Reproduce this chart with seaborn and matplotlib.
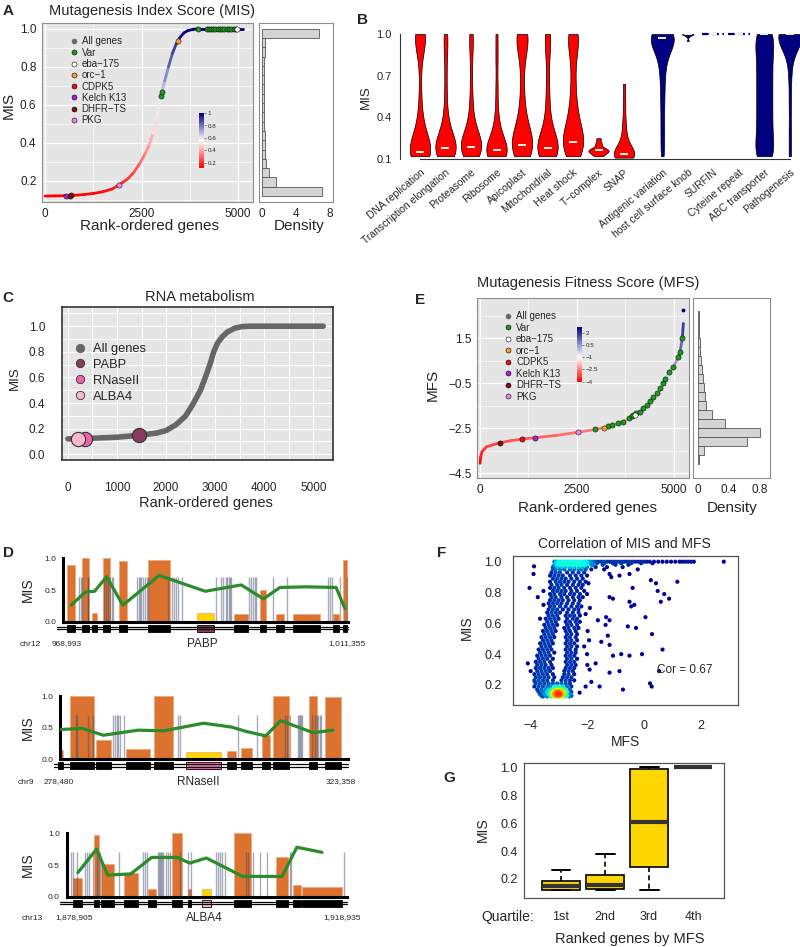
import numpy as np
import pandas as pd
import matplotlib
matplotlib.use("Agg")
import matplotlib.pyplot as plt
import seaborn as sns
from matplotlib.collections import LineCollection
from matplotlib.colors import LinearSegmentedColormap, Normalize
from matplotlib.cm import ScalarMappable
from matplotlib.lines import Line2D

# ---------------- A: Mutagenesis Index Score ----------------
mis_rank = [0, 250, 500, 750, 1000, 1250, 1500, 1750, 2000, 2150, 2300, 2450, 2600, 2700,
            2800, 2900, 3000, 3100, 3200, 3300, 3400, 3500, 3600, 3700, 3850, 4000, 4500, 5130]
mis_value = [0.120, 0.121, 0.122, 0.124, 0.128, 0.134, 0.143, 0.158, 0.19, 0.212, 0.245, 0.29,
             0.345, 0.39, 0.45, 0.54, 0.645, 0.725, 0.80, 0.87, 0.92, 0.955, 0.978, 0.99, 0.997,
             1.0, 1.0, 1.0]
mis_hist_edges = [0.12, 0.169, 0.218, 0.267, 0.316, 0.364, 0.413, 0.462, 0.511, 0.56, 0.609,
                  0.658, 0.707, 0.756, 0.804, 0.853, 0.902, 0.951, 1.0]
mis_hist_density = [7.1, 1.65, 0.8, 0.5, 0.4, 0.35, 0.3, 0.25, 0.25, 0.2, 0.25, 0.2, 0.2, 0.2,
                    0.25, 0.3, 0.3, 6.7]

legend_genes = ["All genes", "Var", "eba\u2212175", "orc\u22121", "CDPK5", "Kelch K13", "DHFR\u2212TS", "PKG"]
legend_colors = ["#666666", "#1E9A1E", "#FFFFFF", "#F5A033", "#E81010", "#9B27D9", "#7A1010", "#EE88EE"]

a_var_rank = [3005, 3020, 3960, 4185, 4245, 4300, 4355, 4410, 4470, 4530, 4590, 4650, 4710,
              4770, 4830, 4890, 4940]
a_var_mis = [0.648, 0.665, 1.0, 1.0, 1.0, 1.0, 1.0, 1.0, 1.0, 1.0, 1.0, 1.0, 1.0, 1.0, 1.0, 1.0, 1.0]
# eba-175, orc-1, CDPK5, Kelch K13, DHFR-TS, PKG
a_gene_rank = [4975, 3446, 680, 544, 640, 1917]
a_gene_mis = [1.0, 0.935, 0.124, 0.121, 0.123, 0.18]

# ---------------- B: MIS per functional class ----------------
b_names = ["DNA replication", "Transcription elongation", "Proteasome", "Ribosome", "Apicoplast",
           "Mitochondrial", "Heat shock", "T\u2212complex", "SNAP", "Antigenic variation",
           "host cell surface knob", "SURFIN", "Cyteine repeat", "ABC transporter", "Pathogenesis"]
b_pos = [1, 2, 3, 4, 5, 6, 7, 8, 9, 10.5, 11.5, 12.5, 13.5, 14.5, 15.5]
b_widths = [0.8, 0.8, 0.8, 0.8, 0.8, 0.8, 0.8, 0.8, 0.8, 0.9, 0.45, 0.85, 0.85, 0.7, 0.9]
b_colors = ["#FF0000"] * 9 + ["#000080"] * 6
b_medians = [0.148, 0.181, 0.189, 0.163, 0.2, 0.179, 0.222, 0.163, 0.136, 0.973, 0.998, 1.0,
             1.0, 1.0, 1.0]
dna_rep = [0.12, 0.12, 0.125, 0.13, 0.13, 0.135, 0.14, 0.145, 0.15, 0.16, 0.17, 0.18, 0.19, 0.21,
           0.23, 0.26, 0.29, 0.33, 0.39, 0.47, 0.6, 0.78, 0.9, 0.95, 0.97, 0.98, 0.99, 1.0, 1.0, 1.0]
transcription = [0.12, 0.125, 0.13, 0.14, 0.15, 0.16, 0.17, 0.18, 0.19, 0.2, 0.21, 0.23, 0.25,
                 0.28, 0.31, 0.36, 0.43, 0.55, 0.7, 0.85, 0.96, 1.0]
proteasome = [0.12, 0.13, 0.14, 0.155, 0.17, 0.18, 0.19, 0.2, 0.21, 0.22, 0.24, 0.26, 0.29, 0.33,
              0.39, 0.48, 0.62, 0.8, 0.95, 1.0]
ribosome = [0.12, 0.12, 0.125, 0.13, 0.14, 0.15, 0.16, 0.17, 0.18, 0.2, 0.22, 0.25, 0.29, 0.35,
            0.45, 0.62, 0.82, 1.0]
apicoplast = [0.12, 0.13, 0.15, 0.17, 0.19, 0.2, 0.21, 0.22, 0.24, 0.27, 0.3, 0.34, 0.4, 0.48,
              0.6, 0.75, 0.88, 0.94, 0.97, 0.99, 1.0, 1.0]
mito = [0.12, 0.13, 0.14, 0.15, 0.16, 0.17, 0.18, 0.19, 0.2, 0.22, 0.25, 0.28, 0.33, 0.4, 0.5,
        0.62, 0.78, 0.92, 0.98, 1.0]
heat_shock = [0.12, 0.14, 0.16, 0.18, 0.2, 0.22, 0.23, 0.25, 0.27, 0.3, 0.33, 0.37, 0.42, 0.48,
              0.56, 0.66, 0.78, 0.88, 0.94, 0.98, 1.0, 1.0]
t_complex = [0.12, 0.13, 0.14, 0.15, 0.155, 0.16, 0.165, 0.17, 0.18, 0.2, 0.22, 0.25]
snap = [0.11, 0.115, 0.12, 0.125, 0.13, 0.135, 0.14, 0.15, 0.17, 0.2, 0.24, 0.3, 0.38, 0.5, 0.64]
antigenic = [0.12, 0.22, 0.32, 0.42, 0.52, 0.6, 0.68, 0.75, 0.8, 0.85, 0.88, 0.91, 0.93, 0.95,
             0.96, 0.97, 0.975, 0.98, 0.985, 0.99, 0.995, 1.0, 1.0, 1.0]
knob = [0.95, 0.98, 0.99, 0.995, 1.0, 1.0, 1.0, 1.0]
surfin = [1.0, 1.0, 1.0]
cyteine = [1.0, 1.0, 1.0]
abc = [0.12, 0.12, 0.13, 0.16, 0.2, 0.24, 0.28, 0.32, 0.36, 0.4, 0.44, 0.48, 0.52, 0.56, 0.6,
       0.64, 0.68, 0.72, 0.76, 0.8, 0.84, 0.88, 0.92, 0.96, 0.99, 1.0, 1.0]
pathogenesis = [0.12, 0.3, 0.5, 0.68, 0.8, 0.88, 0.93, 0.95, 0.97, 0.98, 0.985, 0.99, 0.995,
                1.0, 1.0, 1.0, 1.0, 1.0]
b_values = [dna_rep, transcription, proteasome, ribosome, apicoplast, mito, heat_shock,
            t_complex, snap, antigenic, knob, surfin, cyteine, abc, pathogenesis]

# ---------------- C: RNA metabolism ----------------
c_rank = [0, 500, 1000, 1500, 1800, 2000, 2200, 2400, 2560, 2700, 2800, 2900, 2970, 3050, 3150,
          3250, 3400, 3550, 3700, 4000, 5200]
c_mis = [0.12, 0.125, 0.133, 0.15, 0.165, 0.185, 0.23, 0.3, 0.4, 0.5, 0.6, 0.71, 0.8, 0.87, 0.92,
         0.955, 0.985, 0.997, 1.0, 1.0, 1.0]
c_genes = ["PABP", "RNaseII", "ALBA4"]
c_gene_rank = [1456, 347, 211]
c_gene_mis = [0.15, 0.12, 0.12]
c_gene_colors = ["#8B3A62", "#F062A8", "#FFB6C8"]

# ---------------- D: gene neighbourhoods (kb from region start) ----------------
d1_start = [0.6, 2.8, 4.3, 5.9, 8.3, 12.6, 19.8, 25.4, 29.3, 31.6, 34.1, 40.1, 41.6]
d1_end = [1.7, 3.8, 5.0, 7.0, 9.4, 15.9, 22.4, 27.5, 30.2, 32.8, 38.2, 41.0, 42.1]
d1_mis = [0.90, 1.0, 0.14, 1.0, 0.95, 0.97, 0.14, 0.12, 0.50, 0.12, 0.12, 0.12, 0.98]
d1_fit = [0.26, 0.47, 0.48, 0.71, 0.26, 0.73, 0.48, 0.58, 0.36, 0.54, 0.55, 0.54, 0.21]
d1_sites = [2.3, 2.6, 2.8, 3.6, 3.7, 6.0, 6.3, 6.7, 6.9, 7.2, 7.4, 10.9, 11.2, 11.4, 11.6, 11.9,
            12.1, 12.4, 12.6, 15.6, 16.1, 16.4, 16.8, 17.1, 17.6, 22.7, 23.5, 23.8, 24.2, 24.4,
            24.6, 24.8, 25.0, 27.6, 27.9, 28.2, 28.5, 28.7, 31.2, 33.3, 39.4, 39.6, 39.9, 41.2, 42.1]

d2_start = [-0.25, 1.56, 5.6, 10.27, 14.68, 19.61, 25.94, 28.12, 31.39, 33.1, 38.81, 41.24]
d2_end = [0.5, 5.34, 7.89, 14.0, 17.64, 25.06, 27.39, 29.83, 32.68, 35.59, 40.05, 43.73]
d2_mis = [0.15, 1.0, 0.31, 0.17, 1.0, 0.12, 0.13, 0.18, 0.38, 1.0, 1.0, 0.99]
d2_fit = [0.47, 0.49, 0.38, 0.46, 0.45, 0.57, 0.51, 0.44, 0.37, 0.61, 0.42, 0.46]
d2_sites = [2.5, 2.7, 4.4, 5.2, 8.3, 8.6, 8.8, 9.1, 9.3, 9.9, 18.4, 18.7, 27.7, 30.6, 35.0, 35.3,
            35.8, 37.0, 37.2, 37.4, 37.5, 37.7, 39.2, 39.7, 40.0, 40.2, 40.5, 40.7]

d3_start = [0.95, 3.91, 4.91, 8.2, 11.58, 15.1, 17.39, 19.3, 23.92, 29.88, 32.31, 33.69]
d3_end = [2.24, 4.62, 6.81, 10.15, 12.72, 16.44, 17.77, 20.63, 26.4, 31.69, 33.5, 39.31]
d3_mis = [0.29, 0.97, 0.52, 0.38, 0.12, 1.0, 0.12, 0.12, 1.0, 0.62, 0.19, 0.15]
d3_fit = [0.38, 0.75, 0.34, 0.36, 0.62, 0.62, 0.53, 0.61, 0.32, 0.32, 0.78, 0.70]
d3_sites = [0.57, 0.86, 1.52, 2.62, 2.95, 3.24, 3.72, 4.34, 4.57, 4.76, 7.53, 10.96, 11.2, 11.44,
            13.01, 13.2, 13.34, 13.49, 13.68, 13.82, 14.15, 14.53, 14.77, 16.2, 17.3, 17.77,
            21.35, 21.68, 21.92, 22.16, 22.63, 25.63, 25.97, 26.68, 27.64, 28.59, 31.93, 32.07, 39.69]

d_chrom = ["chr12", "chr9", "chr13"]
d_left = ["968,993", "278,480", "1,878,905"]
d_right = ["1,011,355", "323,358", "1,918,935"]
d_span = [42.362, 44.878, 40.03]
d_target = [6, 5, 7]
d_target_name = ["PABP", "RNaseII", "ALBA4"]
d_target_color = ["#8B3A62", "#FF69B4", "#FFC0CB"]

# ---------------- E: Mutagenesis Fitness Score ----------------
mfs_rank = [0, 15, 50, 170, 517, 800, 1077, 1421, 2000, 2524, 2972, 3204, 3402, 3574, 3688, 3800,
            3962, 4134, 4307, 4479, 4565, 4780, 4892, 4996, 5125, 5168, 5228, 5254]
mfs_value = [-4.07, -3.8, -3.55, -3.33, -3.15, -3.06, -2.99, -2.93, -2.82, -2.69, -2.56, -2.49,
             -2.37, -2.29, -2.22, -2.12, -1.92, -1.77, -1.48, -1.11, -0.96, -0.34, 0.0, 0.2, 0.67,
             0.89, 1.49, 2.15]
mfs_top_rank = [5237]
mfs_top_value = [2.74]
mfs_hist_edges = [-4.1, -3.7, -3.3, -2.9, -2.5, -2.1, -1.7, -1.3, -0.9, -0.5, -0.1, 0.3, 0.7,
                  1.1, 1.5, 1.9, 2.3, 2.7]
mfs_hist_density = [0.01, 0.08, 0.63, 0.8, 0.35, 0.18, 0.1, 0.09, 0.08, 0.07, 0.05, 0.04, 0.03,
                    0.02, 0.015, 0.01, 0.01]
e_var_rank = [2972, 3316, 3402, 3574, 3688, 3850, 3920, 3962, 4040, 4134, 4220, 4307, 4400, 4479,
              4565, 4650, 4729, 4780, 4892, 4996, 5125, 5168, 5228]
e_var_mfs = [-2.56, -2.41, -2.37, -2.29, -2.22, -2.06, -1.97, -1.92, -1.85, -1.77, -1.62, -1.48,
             -1.28, -1.11, -0.96, -0.71, -0.49, -0.34, 0.0, 0.2, 0.67, 0.89, 1.49]
e_gene_rank = [4005, 3204, 1077, 1421, 517, 2524]
e_gene_mfs = [-1.9, -2.49, -2.99, -2.93, -3.15, -2.69]

# ---------------- F: MIS vs MFS ----------------
f_row_mis = [1.0, 0.99, 0.98, 0.965, 0.95, 0.93, 0.91, 0.89, 0.87, 0.85, 0.83, 0.81, 0.79, 0.77,
             0.75, 0.73, 0.71, 0.69, 0.67, 0.65, 0.63, 0.61, 0.59, 0.57, 0.55, 0.53, 0.51, 0.49,
             0.47, 0.45, 0.43, 0.41, 0.39, 0.37, 0.35, 0.33, 0.31, 0.29, 0.27, 0.25, 0.23, 0.21,
             0.19, 0.175, 0.17, 0.16, 0.155, 0.145, 0.14, 0.135, 0.13, 0.125]
f_row_mfs = [
    [-3.15, -3.1, -3.05, -3.0, -2.95, -2.9, -2.85, -2.8, -2.75, -2.7, -2.65, -2.6, -2.55, -2.5,
     -2.45, -2.4, -2.35, -2.3, -2.25, -2.2, -2.15, -2.1, -2.05, -2.0, -1.95, -1.9, -1.8, -1.7,
     -1.6, -1.5, -1.4, -1.3, -1.2, -1.1, -1.0, -0.9, -0.8, -0.7, -0.6, -0.5, -0.4, -0.3, -0.2,
     -0.1, 0.0, 0.1, 0.2, 0.35, 0.5, 0.65, 0.8, 0.95, 1.1, 1.25, 1.35, 1.45, 1.55, 1.65, 1.75, 2.8],
    [-3.1, -3.0, -2.9, -2.8, -2.7, -2.6, -2.5, -2.4, -2.3, -2.2, -2.1, -2.0, -1.85, -1.65, -1.4,
     -1.1, -0.8, -0.45, -0.1, 0.3],
    [-3.15, -3.05, -2.95, -2.85, -2.75, -2.65, -2.55, -2.45, -2.35, -2.25, -2.15, -2.05, -1.8,
     -1.45, -1.0, -0.55],
    [-3.2, -3.05, -2.9, -2.75, -2.6, -2.45, -2.3, -2.15, -2.0, -1.7, -1.3, -0.75],
    [-3.2, -3.1, -2.95, -2.8, -2.6, -2.45, -2.3, -2.2, -2.05, -1.85, -1.4],
    [-3.25, -3.1, -2.95, -2.7, -2.5, -2.3, -2.1],
    [-3.3, -3.15, -3.0, -2.85, -2.6, -2.4, -2.2, -2.0],
    [-3.2, -3.05, -2.9, -2.75, -2.55, -2.35, -2.15],
    [-3.3, -3.1, -2.95, -2.8, -2.65, -2.45, -2.25, -2.05],
    [-3.25, -3.05, -2.9, -2.7, -2.5, -2.3, -2.15],
    [-3.3, -3.15, -3.0, -2.8, -2.6, -2.4, -2.2],
    [-3.2, -3.05, -2.9, -2.75, -2.55, -2.35, -2.1],
    [-3.3, -3.15, -2.95, -2.8, -2.6, -2.45, -2.25],
    [-3.25, -3.1, -2.9, -2.7, -2.5, -2.3, -2.15],
    [-3.3, -3.15, -3.0, -2.85, -2.65, -2.45, -2.25],
    [-3.35, -3.2, -3.05, -2.9, -2.7, -2.5, -2.3],
    [-3.3, -3.15, -2.95, -2.75, -2.55, -2.35, -2.2],
    [-3.35, -3.2, -3.05, -2.85, -2.65, -2.45, -2.3],
    [-3.4, -3.25, -3.1, -2.95, -2.7, -2.5, -2.3],
    [-3.35, -3.2, -3.05, -2.75, -2.6, -2.45, -2.25],
    [-3.45, -3.3, -3.15, -3.0, -2.7, -2.5, -2.35],
    [-3.4, -3.25, -3.1, -2.75, -2.6, -2.4, -2.25],
    [-3.5, -3.35, -3.2, -3.05, -2.7, -2.55, -2.35],
    [-3.45, -3.3, -3.15, -2.8, -2.65, -2.45, -2.3],
    [-3.55, -3.4, -3.25, -3.1, -2.75, -2.6, -2.4],
    [-3.5, -3.35, -3.2, -2.7, -2.55, -2.35],
    [-3.6, -3.45, -3.3, -3.15, -2.75, -2.6, -2.4],
    [-3.55, -3.4, -3.25, -2.7, -2.55, -2.35],
    [-3.65, -3.5, -3.35, -3.2, -2.75, -2.6, -2.45],
    [-3.6, -3.45, -3.3, -2.7, -2.55, -2.35],
    [-3.7, -3.55, -3.4, -3.25, -2.75, -2.6, -2.4],
    [-3.65, -3.5, -3.35, -3.15, -2.7, -2.55, -2.4],
    [-3.75, -3.6, -3.45, -3.3, -2.75, -2.6, -2.45],
    [-3.7, -3.55, -3.4, -3.2, -2.7, -2.55, -2.35],
    [-3.8, -3.65, -3.5, -3.3, -2.75, -2.6, -2.45],
    [-3.75, -3.6, -3.45, -3.25, -2.7, -2.55, -2.4],
    [-3.8, -3.65, -3.5, -3.35, -3.2, -2.75, -2.6, -2.45],
    [-3.75, -3.6, -3.45, -3.3, -2.8, -2.65, -2.5],
    [-3.85, -3.7, -3.55, -3.4, -3.2, -2.8, -2.65, -2.45],
    [-3.8, -3.65, -3.5, -3.35, -3.15, -2.85, -2.7, -2.55],
    [-3.85, -3.7, -3.55, -3.4, -3.2, -2.9, -2.75, -2.6, -2.45],
    [-3.8, -3.65, -3.5, -3.35, -3.2, -3.05, -2.9, -2.75, -2.6],
    [-3.85, -3.7, -3.55, -3.4, -3.3, -3.15, -3.05, -2.95, -2.85, -2.7, -2.55],
    [-3.15, -3.05, -2.95, -2.85],
    [-3.75, -3.6, -3.45, -3.35, -3.25, -3.15, -3.05, -2.95, -2.85, -2.75, -2.6],
    [-3.2, -3.12, -3.04, -2.96, -2.88, -2.8],
    [-3.7, -3.55, -3.4, -3.3, -3.2, -3.12, -3.05, -2.98, -2.9, -2.8, -2.7, -2.55],
    [-3.22, -3.16, -3.1, -3.04, -2.98, -2.92, -2.86, -2.8],
    [-3.65, -3.5, -3.35, -3.25, -3.18, -3.1, -3.04, -2.98, -2.92, -2.85, -2.75, -2.6],
    [-3.2, -3.15, -3.1, -3.05, -3.0, -2.95, -2.9, -2.85],
    [-3.6, -3.45, -3.3, -3.2, -3.12, -3.06, -3.0, -2.95, -2.88, -2.8, -2.7, -2.55],
    [-3.55, -3.4, -3.25, -3.15, -3.08, -3.02, -2.97, -2.92, -2.85, -2.75, -2.62],
]
f_out_mfs = [-3.86, -3.88, -4.02, -3.53, -3.73, -3.53, -3.65, -4.08, -3.98, -3.83, -1.85, -1.21,
             -1.15, -0.86, -0.51, -0.22, 0.24, 0.42, 1.17, -0.4, -1.21, -1.09, -0.51, -0.45, -0.34,
             0.48, 0.71, 0.88, 0.59, -1.33, -1.62, -1.21, -1.35, -0.57, -0.28, 0.05, 0.28, -1.27,
             -1.5, -1.21, -0.8, -0.51, -0.07, 0.65, -1.09, -1.7, -1.91, -1.21, -0.86, -1.85, -1.56,
             -0.74, 0.21, 0.27, 0.53, -2.26, -2.05, -1.99, -1.93, -1.95, -2.0, -1.9, -2.05, -1.98,
             -2.1, -2.0]
f_out_mis = [0.97, 0.92, 0.83, 0.81, 0.77, 0.72, 0.63, 0.34, 0.29, 0.22, 0.98, 0.92, 0.9, 0.91,
             0.92, 0.95, 0.88, 0.86, 0.87, 0.83, 0.77, 0.76, 0.74, 0.71, 0.72, 0.81, 0.79, 0.76,
             0.74, 0.64, 0.62, 0.62, 0.59, 0.58, 0.57, 0.64, 0.53, 0.52, 0.48, 0.46, 0.4, 0.39, 0.4,
             0.43, 0.39, 0.34, 0.3, 0.28, 0.29, 0.22, 0.19, 0.17, 0.21, 0.19, 0.29, 0.15, 0.19,
             0.33, 0.49, 0.86, 0.79, 0.7, 0.66, 0.55, 0.45, 0.4]
f_cor_text = "Cor = 0.67"

# ---------------- G: MIS by MFS quartile ----------------
g_labels = ["1st", "2nd", "3rd", "4th"]
g_whislo = [0.12, 0.12, 0.12, 1.0]
g_q1 = [0.122, 0.128, 0.286, 1.0]
g_med = [0.15, 0.16, 0.61, 1.0]
g_q3 = [0.183, 0.232, 0.99, 1.0]
g_whishi = [0.267, 0.38, 1.0, 1.0]

# ---------------- figure set-up ----------------
sns.set_style("white")
plt.rcParams["font.family"] = ["Liberation Sans", "DejaVu Sans"]
W, H = 800, 947
fig = plt.figure(figsize=(W / 100, H / 100), dpi=100)


def rect(l, t, r, b):
    return [l / W, 1 - b / H, (r - l) / W, (b - t) / H]


def label(px, py, s, size, **kw):
    kw.setdefault("ha", "center")
    kw.setdefault("va", "center")
    fig.text(px / W, 1 - py / H, s, fontsize=size, **kw)


def panel(px, py, s):
    fig.text(px / W, 1 - py / H, s, fontsize=11, fontweight="bold", ha="center", va="center",
             family=["Liberation Sans Narrow", "Liberation Sans"])


def gg_style(ax):
    ax.set_facecolor("#E5E5E5")
    for s in ax.spines.values():
        s.set_color("#8C8C8C")
        s.set_linewidth(0.8)
    ax.grid(True, which="major", color="white", lw=0.9)
    ax.grid(True, which="minor", color="white", lw=0.45)
    ax.set_axisbelow(True)
    ax.tick_params(which="major", length=2.5, width=0.6, color="#666666", labelsize=8.5,
                   pad=1.5, labelcolor="#222222")
    ax.tick_params(which="minor", length=0)


def hist_style(ax):
    ax.set_facecolor("white")
    for s in ax.spines.values():
        s.set_color("#8C8C8C")
        s.set_linewidth(0.8)
    ax.tick_params(length=2.5, width=0.6, color="#666666", labelsize=8.5, pad=1.5,
                   labelcolor="#222222")
    ax.set_yticks([])


def colored_line(ax, x, y, cmap, norm, lw):
    pts = np.column_stack([x, y])
    segs = np.stack([pts[:-1], pts[1:]], axis=1)
    lc = LineCollection(segs, cmap=cmap, norm=norm, linewidths=lw, capstyle="round",
                        joinstyle="round", zorder=2)
    lc.set_array((np.asarray(y[:-1]) + np.asarray(y[1:])) / 2)
    ax.add_collection(lc)


def gene_legend(ax, x0, y0, size, spacing, pad, ms):
    handles = [Line2D([], [], ls="none", marker="o", ms=ms, mfc=c,
                      mec=c if lab == "All genes" else "black", mew=0.4)
               for lab, c in zip(legend_genes, legend_colors)]
    ax.legend(handles, legend_genes, loc="upper left", bbox_to_anchor=(x0 / W, 1 - y0 / H),
              bbox_transform=fig.transFigure, frameon=False, fontsize=size, handlelength=1.0,
              handletextpad=pad, labelspacing=spacing, borderpad=0, borderaxespad=0)


def small_cbar(box, norm, cmap, ticks, labels):
    cax = fig.add_axes(rect(*box))
    cb = fig.colorbar(ScalarMappable(norm=norm, cmap=cmap), cax=cax, ticks=ticks)
    cb.ax.set_yticklabels(labels)
    cb.ax.tick_params(labelsize=4.5, length=1.5, width=0.4, pad=1)
    cb.outline.set_visible(False)


score_cmap = LinearSegmentedColormap.from_list("score", ["#FF0000", "#FFFFFF", "#00007F"])
mfs_cmap = LinearSegmentedColormap.from_list(
    "mfs", [(0, "#FF0000"), (0.45, "#FFFFFF"), (1, "#00007F")])
dens_cmap = LinearSegmentedColormap.from_list(
    "dens", ["#000099", "#00FEFF", "#45FE4F", "#FCFF00", "#FF9400", "#FF3100"])

# ---------------- panel A ----------------
axA = fig.add_axes(rect(42, 23, 253, 202))
gg_style(axA)
mis_norm = Normalize(0.12, 1.0)
colored_line(axA, mis_rank, mis_value, score_cmap, mis_norm, 2.0)
sns.scatterplot(x=a_var_rank, y=a_var_mis, color=legend_colors[1], s=14, edgecolor="black",
                linewidth=0.35, zorder=4, ax=axA)
for r, m, c in zip(a_gene_rank, a_gene_mis, legend_colors[2:]):
    axA.scatter(r, m, s=14, color=c, edgecolor="black", linewidth=0.35, zorder=5)
axA.set_xlim(-80, 5390)
axA.set_ylim(0.089, 1.03)
axA.set_xticks([0, 2500, 5000])
axA.set_xticks([1250, 3750], minor=True)
axA.set_yticks([0.2, 0.4, 0.6, 0.8, 1.0])
axA.set_yticks([0.1, 0.3, 0.5, 0.7, 0.9], minor=True)
axA.yaxis.set_major_formatter("{x:.1f}")
axA.set(xlabel="", ylabel="")
gene_legend(axA, 69, 36.5, 7, 0.13, 0.3, 3.6)
small_cbar((199, 113, 204, 168), mis_norm, score_cmap, [0.2, 0.4, 0.6, 0.8, 1.0],
           ["0.2", "0.4", "0.6", "0.8", "1"])

axAd = fig.add_axes(rect(259, 23, 333, 202))
hist_style(axAd)
edges = np.asarray(mis_hist_edges)
axAd.barh(edges[:-1], mis_hist_density, height=np.diff(edges), align="edge", color="#D4D4D4",
          edgecolor="#555555", linewidth=0.6)
axAd.set_ylim(0.089, 1.03)
axAd.set_xlim(-0.35, 8.35)
axAd.set_xticks([0, 4, 8])

panel(8, 11, "A")
label(152, 11, "Mutagenesis Index Score (MIS)", 10.5)
label(150, 226, "Rank-ordered genes", 11)
label(299, 226, "Density", 11)
label(9, 105, "MIS", 11, rotation=90)

# ---------------- panel B ----------------
axB = fig.add_axes(rect(400, 34, 800, 159))
pill = [(-1, -0.42), (1, -0.42), (1, 0.42), (-1, 0.42)]
for pos, vals, col, w in zip(b_pos, b_values, b_colors, b_widths):
    if max(vals) == min(vals):
        axB.hlines(vals[0], pos - w / 2, pos + w / 2, colors=col, lw=1.6,
                   linestyles=(0, (3, 1.6)), clip_on=False)
        continue
    sns.violinplot(x=[pos] * len(vals), y=vals, native_scale=True, orient="x", color=col,
                   saturation=1, width=w, cut=0, inner=None, bw_adjust=0.6,
                   density_norm="width", linewidth=0.5, linecolor="black", ax=axB)
axB.scatter(b_pos, b_medians, marker=pill, s=26, color="#EEEEDD", linewidths=0, zorder=6,
            clip_on=False)
axB.set_xlim(0.216, 15.9)
axB.set_ylim(0.1, 1.0)
axB.set_yticks([0.1, 0.4, 0.7, 1.0])
axB.yaxis.set_major_formatter("{x:.1f}")
axB.set_xticks(b_pos)
axB.set_xticklabels(b_names, rotation=40, ha="right", rotation_mode="anchor", fontsize=7.5)
for s in ["top", "right"]:
    axB.spines[s].set_visible(False)
axB.spines["left"].set_bounds(0.1, 1.0)
axB.spines["bottom"].set_bounds(1, 15.5)
for s in ["left", "bottom"]:
    axB.spines[s].set_linewidth(0.8)
    axB.spines[s].set_color("#333333")
axB.tick_params(axis="y", labelsize=8, length=4, width=0.7, pad=2)
axB.tick_params(axis="x", length=4, width=0.7, pad=2)
axB.set(xlabel="", ylabel="")
panel(363, 20, "B")
label(366, 97, "MIS", 9.5, rotation=90)

# ---------------- panel C ----------------
axC = fig.add_axes(rect(62, 307, 333, 460))
axC.set_facecolor("#E5E5E5")
axC.set_xticks(range(0, 5001, 1000))
axC.set_xticks(range(500, 5500, 1000), minor=True)
axC.set_yticks([0.0, 0.2, 0.4, 0.6, 0.8, 1.0])
axC.set_yticks([0.1, 0.3, 0.5, 0.7, 0.9, 1.1], minor=True)
axC.grid(True, which="both", color="white", lw=0.8)
axC.set_axisbelow(True)
sns.lineplot(x=c_rank, y=c_mis, color="#666666", linewidth=4, ax=axC, zorder=2)
for r, m, c in zip(c_gene_rank, c_gene_mis, c_gene_colors):
    axC.scatter(r, m, s=105, color=c, edgecolor="#333333", linewidth=0.8, zorder=4)
axC.set_xlim(-120, 5400)
axC.set_ylim(-0.045, 1.15)
axC.yaxis.set_major_formatter("{x:.1f}")
for s in axC.spines.values():
    s.set_color("#333333")
    s.set_linewidth(1.2)
axC.tick_params(axis="x", which="major", length=4, width=0.8, pad=12, labelsize=8.5)
axC.tick_params(axis="y", which="major", length=5, width=0.8, pad=7, labelsize=8.5)
axC.tick_params(which="minor", length=0)
axC.set(xlabel="", ylabel="")
c_handles = [Line2D([], [], ls="none", marker="o", ms=6, mfc=c, mec="#333333" if i else c, mew=0.6)
             for i, c in enumerate(["#666666"] + c_gene_colors)]
axC.legend(c_handles, ["All genes"] + c_genes, loc="upper left",
           bbox_to_anchor=(73.5 / W, 1 - 343 / H), bbox_transform=fig.transFigure,
           frameon=False, fontsize=9.3, handlelength=1.0, handletextpad=0.5, labelspacing=0.3,
           borderpad=0, borderaxespad=0)
panel(8, 298, "C")
label(200, 297, "RNA metabolism", 10.5)
label(206, 503, "Rank-ordered genes", 10.5)
label(15, 378, "MIS", 9.5, rotation=90)

# ---------------- panel D ----------------
d_boxes = [(63.3, 558.3, 348.3, 621.7), (60, 696, 348.3, 759.3), (66.7, 833.3, 346.7, 896.7)]
d_sets = [(d1_start, d1_end, d1_mis, d1_fit, d1_sites),
          (d2_start, d2_end, d2_mis, d2_fit, d2_sites),
          (d3_start, d3_end, d3_mis, d3_fit, d3_sites)]
d_text_y = [644, 782, 918]
d_text_x = [(30, 67, 202, 347), (25.5, 59, 198, 341), (32.5, 74, 204, 342)]
for k, (box, (st, en, mis, fit, sites)) in enumerate(zip(d_boxes, d_sets)):
    ax = fig.add_axes(rect(*box))
    st, en = np.asarray(st), np.asarray(en)
    mid = (st + en) / 2
    span = d_span[k]
    bar_cols = ["#FFD500" if i == d_target[k] else "#DB7230" for i in range(len(st))]
    ax.bar(mid, mis, width=en - st, color=bar_cols, edgecolor="#F2A575", linewidth=0.5, zorder=1)
    ax.vlines(sites, 0, 0.7, colors="#3C4668", alpha=0.45, lw=1.0, zorder=2)
    sns.lineplot(x=mid, y=fit, color="#2A8C2A", linewidth=2.3, ax=ax, zorder=3)
    yt = -0.1
    for dy in (-0.022, 0.022):
        ax.plot([-0.9, span], [yt + dy, yt + dy], color="black", lw=0.9, clip_on=False)
    box_cols = [d_target_color[k] if i == d_target[k] else "black" for i in range(len(st))]
    track = ax.bar(mid, 0.11, width=en - st, bottom=yt - 0.055, color=box_cols,
                   edgecolor="black", linewidth=0.6)
    for p in track:
        p.set_clip_on(False)
    ax.set_xlim(0, span)
    ax.set_ylim(0, 1.0)
    ax.set_facecolor("none")
    for s in ["top", "right"]:
        ax.spines[s].set_visible(False)
    for s in ["left", "bottom"]:
        ax.spines[s].set_linewidth(2.2)
        ax.spines[s].set_color("black")
    ax.set_xticks([])
    ax.set_yticks([0.0, 0.5, 1.0])
    ax.yaxis.set_major_formatter("{x:.1f}")
    ax.tick_params(axis="y", length=3, width=1.5, pad=2, labelsize=6)
    ax.set(xlabel="", ylabel="")
    ty = d_text_y[k]
    xs = d_text_x[k]
    label(xs[0], ty, d_chrom[k], 6)
    label(xs[1], ty, d_left[k], 6)
    label(xs[2], ty, d_target_name[k], 8.5)
    label(xs[3], ty, d_right[k], 6)
    label(28, (box[1] + box[3]) / 2, "MIS", 10, rotation=90)
panel(9, 553, "D")

# ---------------- panel E ----------------
axE = fig.add_axes(rect(477, 298, 689, 478))
gg_style(axE)
mfs_norm = Normalize(-4.06, 2.7)
colored_line(axE, mfs_rank, mfs_value, mfs_cmap, mfs_norm, 2.0)
axE.scatter(mfs_top_rank, mfs_top_value, s=3, color=mfs_cmap(mfs_norm(mfs_top_value)), zorder=3)
sns.scatterplot(x=e_var_rank, y=e_var_mfs, color=legend_colors[1], s=14, edgecolor="black",
                linewidth=0.35, zorder=4, ax=axE)
for r, m, c in zip(e_gene_rank, e_gene_mfs, legend_colors[2:]):
    axE.scatter(r, m, s=14, color=c, edgecolor="black", linewidth=0.35, zorder=5)
axE.set_xlim(-78, 5400)
axE.set_ylim(-4.72, 3.28)
axE.set_xticks([0, 2500, 5000])
axE.set_xticks([1250, 3750], minor=True)
axE.set_yticks([-4.5, -2.5, -0.5, 1.5])
axE.set_yticks([-3.5, -1.5, 0.5, 2.5], minor=True)
axE.set(xlabel="", ylabel="")
gene_legend(axE, 503, 311, 7, 0.16, 0.34, 3.6)
small_cbar((577, 327, 582, 382), mfs_norm, mfs_cmap, [2, 0.5, -1, -2.5, -4],
           ["2", "0.5", "\u22121", "\u22122.5", "\u22124"])

axEd = fig.add_axes(rect(693, 298, 770, 478))
hist_style(axEd)
edges = np.asarray(mfs_hist_edges)
axEd.barh(edges[:-1], mfs_hist_density, height=np.diff(edges), align="edge", color="#D4D4D4",
          edgecolor="#555555", linewidth=0.6)
axEd.set_ylim(-4.72, 3.28)
axEd.set_xlim(-0.065, 0.93)
axEd.set_xticks([0, 0.4, 0.8])
axEd.set_xticklabels(["0", "0.4", "0.8"])

panel(420, 300, "E")
label(588, 283, "Mutagenesis Fitness Score (MFS)", 10.5)
label(587, 508, "Rank-ordered genes", 11)
label(732, 508, "Density", 11)
label(433, 385, "MFS", 11, rotation=90)

# ---------------- panel F ----------------
axF = fig.add_axes(rect(513, 556, 738, 705))
f_mfs = [x for row in f_row_mfs for x in row] + f_out_mfs
f_mis = [m for m, row in zip(f_row_mis, f_row_mfs) for _ in row] + f_out_mis
f_df = pd.DataFrame({"MFS": f_mfs, "MIS": f_mis})
# local point density in screen space, like R's densCols
px = f_df["MFS"].to_numpy() * 28.5
py = f_df["MIS"].to_numpy() * 154
d2 = (px[:, None] - px[None, :]) ** 2 + (py[:, None] - py[None, :]) ** 2
dens = np.exp(-d2 / (2 * 3.2 ** 2)).sum(axis=1)
f_df["dens"] = ((dens - dens.min()) / (dens.max() - dens.min())) ** 1.5
f_df = f_df.sort_values("dens")
sns.scatterplot(data=f_df, x="MFS", y="MIS", hue="dens", palette=dens_cmap, hue_norm=(0, 1),
                s=9, linewidth=0, legend=False, ax=axF)
axF.text(0.47, 0.3, f_cor_text, fontsize=8.5, ha="left", va="center")
axF.set_xlim(-4.6, 3.3)
axF.set_ylim(0.07, 1.037)
axF.set_xticks([-4, -2, 0, 2])
axF.set_yticks([0.2, 0.4, 0.6, 0.8, 1.0])
axF.yaxis.set_major_formatter("{x:.1f}")
for s in axF.spines.values():
    s.set_color("#555555")
    s.set_linewidth(0.9)
axF.tick_params(axis="x", length=5, width=0.8, pad=6, labelsize=9)
axF.tick_params(axis="y", length=5, width=0.8, pad=3, labelsize=9)
axF.set(xlabel="", ylabel="")
panel(442, 553, "F")
label(624, 544, "Correlation of MIS and MFS", 10)
label(626, 742, "MFS", 10)
label(467, 628, "MIS", 10, rotation=90)

# ---------------- panel G ----------------
axG = fig.add_axes(rect(524, 763, 724, 898))
g_stats = [dict(med=m, q1=a, q3=b, whislo=lo, whishi=hi, fliers=[])
           for m, a, b, lo, hi in zip(g_med, g_q1, g_q3, g_whislo, g_whishi)]
axG.bxp(g_stats, positions=[1, 2, 3, 4], widths=0.86, patch_artist=True, showfliers=False,
        boxprops=dict(facecolor="#FFD700", edgecolor="black", linewidth=1.2),
        medianprops=dict(color="#333333", linewidth=3),
        whiskerprops=dict(color="black", linewidth=1.2, linestyle=(0, (3, 2))),
        capprops=dict(color="black", linewidth=1.4), capwidths=0.43)
axG.set_xlim(0.16, 4.7)
axG.set_ylim(0.064, 1.03)
axG.set_xticks([1, 2, 3, 4])
axG.set_xticklabels(g_labels)
axG.set_yticks([0.2, 0.4, 0.6, 0.8, 1.0])
axG.yaxis.set_major_formatter("{x:.1f}")
for s in axG.spines.values():
    s.set_color("#555555")
    s.set_linewidth(0.9)
axG.tick_params(axis="x", length=5, width=0.8, pad=4, labelsize=9)
axG.tick_params(axis="y", length=3, width=0.8, pad=1.5, labelsize=9)
axG.set(xlabel="", ylabel="")
panel(449, 778, "G")
label(508, 917, "Quartile:", 10)
label(630, 939, "Ranked genes by MFS", 10.5)
label(483, 830, "MIS", 10, rotation=90)

fig.savefig("out.png", dpi=100)
